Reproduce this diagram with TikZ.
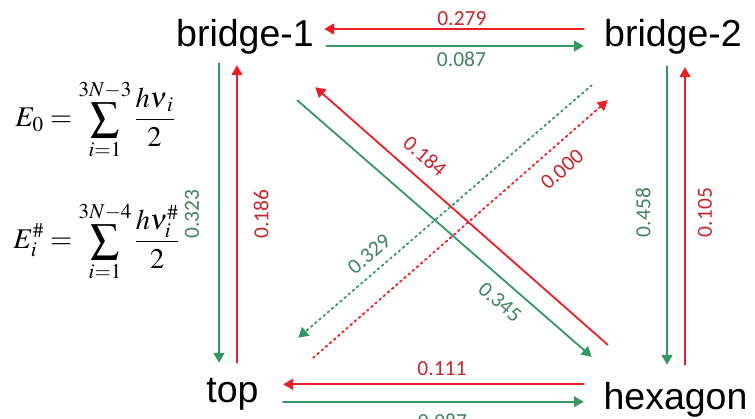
\documentclass[tikz,border=0pt]{standalone}
\usepackage{mathptmx}
\usepackage{fontspec}
\usepackage{tikz}
\usetikzlibrary{arrows.meta,calc}
\newfontfamily\labelfont{Liberation Sans}
\newfontfamily\numfont{Carlito}
\definecolor{fwdgreen}{RGB}{52,152,100}
\definecolor{bwdred}{RGB}{238,30,36}
\definecolor{fwdtext}{RGB}{64,132,92}
\definecolor{bwdtext}{RGB}{198,38,44}
\newcommand\sitefont{\labelfont\fontsize{37.5}{40}\selectfont}
\newcommand\ratefont{\numfont\fontsize{21.5}{24}\selectfont}
\newcommand\eqfont{\fontsize{28.5}{32}\selectfont}
\tikzset{site/.style={font=\sitefont,inner sep=0pt,text height=27pt,text depth=8pt,anchor=base},
 fwd/.style={draw=fwdgreen,line width=1.8pt,-{Triangle[length=10pt,width=11pt]}},
 bwd/.style={draw=bwdred,line width=1.8pt,-{Triangle[length=10pt,width=11pt]}},
 dashline/.style={dash pattern=on 2pt off 3.5pt},
 fwdlab/.style={font=\ratefont,text=fwdtext,inner sep=0pt},
 bwdlab/.style={font=\ratefont,text=bwdtext,inner sep=0pt},
 every picture/.style={line join=round,line cap=round}}

\begin{document}
\begin{tikzpicture}[x=1pt,y=-1pt]
\useasboundingbox (0,0) rectangle (755,418);
\node[site] (b1) at (245,46) {bridge-1};
\node[site] (b2) at (673,46) {bridge-2};
\node[site] (top) at (232.5,402) {top};
\node[site] (hex) at (675.5,409) {hexagon};
\node[font=\eqfont] (eq0) at (95,119.5) {$\displaystyle E_0=\sum_{i=1}^{3N-3}\frac{h\nu_{\,i}}{2}$};
\node[font=\eqfont] (eq1) at (96.5,241.5) {$\displaystyle E_i^{\#}=\sum_{i=1}^{3N-4}\frac{h\nu_i^{\#}}{2}$};
% horizontal pairs
\draw[bwd] ($(b2.base west)+(-20.2,-17)$) -- ($(b1.base east)+(10.2,-17)$);
\draw[fwd] ($(b1.base east)+(12.2,0)$) -- ($(b2.base west)+(-20.2,0)$);
\draw[bwd] ($(hex.base west)+(-19.6,-24.7)$) -- ($(top.base east)+(24.4,-17.7)$);
\draw[fwd] ($(top.base east)+(24.4,-0.3)$) -- ($(hex.base west)+(-19.6,-7.3)$);
% vertical pairs
\draw[fwd] ($(b1.south)+(-26,9)$) -- ($(b1.south |- top.north)+(-26,-12)$);
\draw[bwd] ($(b1.south |- top.north)+(-8,-12)$) -- ($(b1.south)+(-8,11)$);
\draw[fwd] ($(b2.south)+(-6,12)$) -- ($(b2.south |- hex.north)+(-6,-17)$);
\draw[bwd] ($(b2.south |- hex.north)+(12,-17)$) -- ($(b2.south)+(12,13)$);
% diagonals
\draw[fwd] ($(b1.south east)+(-16.8,46)$) -- ($(hex.north west)+(-11.6,-25)$);
\draw[bwd] ($(hex.north west)+(4.4,-37)$) -- ($(b1.south east)+(1.2,33)$);
\draw[fwd,dashline] ($(b2.south west)+(-12.2,31)$) -- ($(top.north east)+(39.4,-37)$);
\draw[bwd,dashline] ($(top.north east)+(54.4,-17)$) -- ($(b2.south west)+(3.8,46)$);
% rates
\node[bwdlab] (r279) at (462,18.3) {0.279};
\node[fwdlab] (r087a) at (461.5,59) {0.087};
\node[bwdlab] (r111) at (442,368.5) {0.111};
\node[fwdlab] (r087b) at (442.5,421.7) {0.087};
\node[fwdlab,rotate=90] (r323) at (192,214) {0.323};
\node[bwdlab,rotate=90] (r186) at (261,214) {0.186};
\node[fwdlab,rotate=90] (r458) at (643,212.5) {0.458};
\node[bwdlab,rotate=90] (r105) at (705,212.5) {0.105};
\node[bwdlab,rotate=-41] (r184) at (425,156) {0.184};
\node[fwdlab,rotate=-41] (r345) at (500,302) {0.345};
\node[bwdlab,rotate=41] (r000) at (562,169.5) {0.000};
\node[fwdlab,rotate=41] (r329) at (369,254) {0.329};
\end{tikzpicture}
\end{document}
